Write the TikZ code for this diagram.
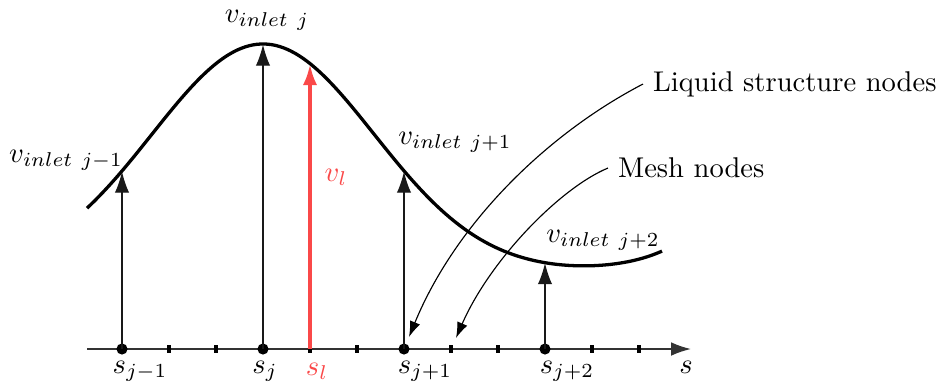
\documentclass[tikz,border=0pt]{standalone}
\usetikzlibrary{arrows.meta}
\definecolor{vred}{RGB}{250,72,72}
\begin{document}
\begin{tikzpicture}[x=0.35pt,y=-0.35pt,
  dot/.style={circle,fill=black,inner sep=0pt,minimum size=3.9pt},
  tickmark/.style={line width=1.1pt},
  axisline/.style={line width=0.6pt,black!80,-{Latex[length=7pt,width=4.8pt]}},
  varrow/.style={line width=0.45pt,black!90,-{Latex[length=7.4pt,width=5pt]}},
  redarrow/.style={line width=1.3pt,vred,-{Latex[length=7.4pt,width=5pt]}},
  curvearrow/.style={line width=0.4pt,-{Latex[length=5.5pt,width=3.8pt]}},
  lbl/.style={inner sep=0pt}]
\useasboundingbox (0,0) rectangle (946,388);
% axis
\coordinate (ax0) at (87,349);
\coordinate (ax1) at (691,349);
\draw[axisline] (ax0) -- (ax1);
% ticks
\foreach \x in {169,216,310,357,451,498,592,639}
  \draw[tickmark] (\x,345) -- (\x,353);
% curve
\draw[line width=1.15pt] plot[domain=-176:399,samples=150,smooth]
  ({263+\x},{349-75-230*exp(-(\x/100)^2/2.476)-23*exp((\x-400)/49)});
% nodes on axis
\node[dot] (d1) at (122,349) {};
\node[dot] (d2) at (263,349) {};
\node[dot] (d3) at (404,349) {};
\node[dot] (d4) at (545,349) {};
\coordinate (dl) at (310,349);
% points on curve
\coordinate (c1) at (122,171.5);
\coordinate (c2) at (263,44.5);
\coordinate (cl) at (310,64);
\coordinate (c3) at (404,171.5);
\coordinate (c4) at (545,263);
\draw[varrow] (d1.center) -- (c1);
\draw[varrow] (d2.center) -- (c2);
\draw[varrow] (d3.center) -- (c3);
\draw[varrow] (d4.center) -- (c4);
\draw[redarrow] (dl) -- (cl);
% labels
\node[lbl] (v1) at (66,160) {$v_{inlet\ j-1}$};
\node[lbl] (v2) at (267,20) {$v_{inlet\ j}$};
\node[lbl] (v3) at (455,142) {$v_{inlet\ j+1}$};
\node[lbl] (v4) at (603,240) {$v_{inlet\ j+2}$};
\node[lbl,text=vred] (vl) at (336,177) {$v_l$};
\node[lbl] (s1) at (140,371) {$s_{j-1}$};
\node[lbl] (s2) at (265,371) {$s_j$};
\node[lbl,text=vred] (sl) at (317,371) {$s_l$};
\node[lbl] (s3) at (425,371) {$s_{j+1}$};
\node[lbl] (s4) at (567,371) {$s_{j+2}$};
\node[lbl] (s) at (686,367) {$s$};
% annotation texts
\node[anchor=west] (liq) at (643,84) {Liquid structure nodes};
\node[anchor=west] (mesh) at (608,168) {Mesh nodes};
\coordinate (liqend) at (409,337);
\coordinate (meshend) at (456,338);
\draw[curvearrow] (liq.west) .. controls (545,135) and (455,225) .. (liqend);
\draw[curvearrow] (mesh.west) .. controls (560,188) and (490,260) .. (meshend);
\end{tikzpicture}
\end{document}
